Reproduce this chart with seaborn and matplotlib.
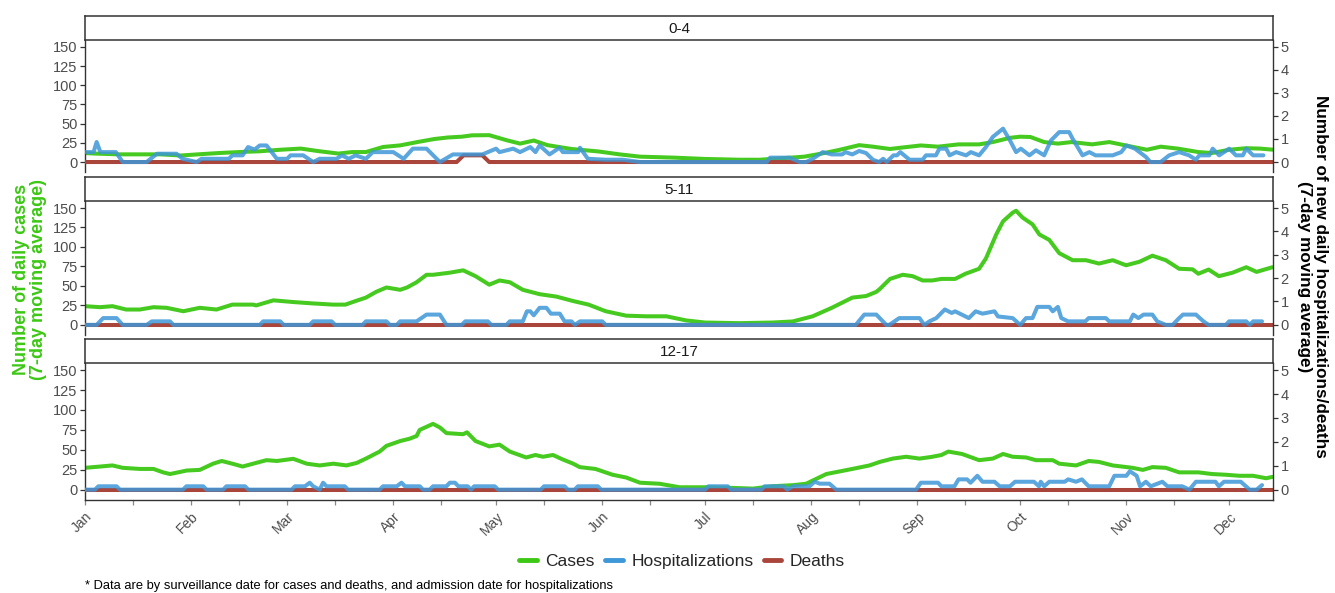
import numpy as np
import pandas as pd
import seaborn as sns
import matplotlib.pyplot as plt
import matplotlib.dates as mdates
from matplotlib.lines import Line2D

# ---- data (day offsets from Jan 1, values) ----
groups = ['0-4', '5-11', '12-17']

cases_04_days = [0, 3, 10, 16, 22, 28, 33, 39, 45, 51, 57, 63, 68, 74, 78, 82, 87, 92, 97, 102, 106, 110, 113, 118, 123, 127, 131, 135, 142, 150, 156, 162, 172, 181, 191, 197, 206, 210, 215, 220, 226, 230, 235, 238, 244, 249, 255, 261, 265, 270, 273, 276, 280, 284, 288, 294, 299, 306, 310, 314, 319, 325, 329, 334, 339, 343, 347]
cases_04_vals = [11.7, 11, 10, 10, 10, 8.5, 10, 11.7, 13, 14, 16, 17.5, 14.3, 11, 13, 13, 19.6, 21.7, 26, 30, 32, 33, 34.8, 35, 28.5, 24, 28, 22, 17, 13.7, 10, 7, 5.7, 4, 3, 3, 5.7, 7, 11, 15.6, 22, 20, 17, 18.6, 21.6, 20, 23, 23, 26, 31.5, 33, 32.6, 26, 24, 26, 23, 26, 19.6, 16, 20, 17.5, 13, 11.7, 16, 18, 17.5, 16]

hosp_04_days = [0, 2.5, 3.4, 4.5, 9, 11, 18, 21, 26.7, 28.5, 32.6, 34, 42, 43, 46, 47.6, 49.5, 51, 53, 56, 59, 60, 63.7, 66.6, 68.5, 73.4, 75, 77, 79, 82, 84, 90, 93, 95.7, 99.7, 103.6, 107.4, 116, 120, 121, 125, 127, 130, 131.5, 132.7, 135.6, 138.5, 139.5, 144, 144.5, 146.8, 152, 157, 162, 199, 200, 205.7, 208.6, 210.5, 212.4, 215.4, 218, 221, 222, 224, 226, 228, 230, 231.8, 233, 234, 236, 237, 238, 240.7, 244.5, 245.5, 248.4, 249.4, 251.4, 252.4, 254.3, 257.2, 258.6, 261, 263, 265, 268, 270, 271.8, 273.2, 275.7, 277.6, 280, 282, 284.4, 287.3, 288.3, 291.2, 293.2, 295, 300, 302.5, 304, 306.5, 309.7, 311, 314, 316.5, 319.4, 322.3, 324.3, 325.3, 328.2, 329.2, 331.1, 334, 336, 338, 339, 341, 344]
hosp_04_vals = [0.43, 0.43, 0.87, 0.43, 0.43, 0, 0, 0.36, 0.36, 0.14, 0, 0.14, 0.14, 0.29, 0.29, 0.65, 0.54, 0.72, 0.72, 0.14, 0.14, 0.29, 0.29, 0, 0.14, 0.14, 0.29, 0.14, 0.29, 0.14, 0.43, 0.43, 0.14, 0.58, 0.58, 0, 0.33, 0.33, 0.58, 0.43, 0.58, 0.43, 0.65, 0.43, 0.72, 0.33, 0.62, 0.43, 0.43, 0.62, 0.14, 0.1, 0.1, 0, 0, 0.19, 0.19, 0, 0, 0.14, 0.43, 0.33, 0.33, 0.43, 0.33, 0.48, 0.39, 0.1, 0, 0.14, 0, 0.29, 0.29, 0.43, 0.1, 0.1, 0.29, 0.29, 0.58, 0.58, 0.29, 0.43, 0.29, 0.43, 0.29, 0.65, 1.09, 1.45, 0.94, 0.43, 0.58, 0.29, 0.51, 0.29, 0.94, 1.3, 1.3, 1.01, 0.29, 0.43, 0.29, 0.29, 0.43, 0.72, 0.58, 0.22, 0, 0, 0.29, 0.43, 0.29, 0.1, 0.29, 0.29, 0.58, 0.29, 0.58, 0.29, 0.29, 0.58, 0.29, 0.29]

deaths_04_days = [0, 108.5, 110.5, 116, 118, 347]
deaths_04_vals = [0, 0, 0.29, 0.29, 0, 0]

cases_511_days = [0, 4.4, 8, 12, 16, 20, 23.8, 28.7, 33.5, 38.4, 43, 49, 50, 55, 60.8, 66.6, 72.5, 76, 79, 82, 85, 88, 92, 94, 96.8, 99.7, 101.6, 106.5, 110.4, 114, 118, 121, 124, 127.8, 132.7, 137.6, 142.5, 147, 152, 158, 163.9, 169.7, 175.5, 181, 191, 200.7, 206.6, 212.4, 218, 224, 228, 231, 232, 234, 235, 238.7, 241.6, 244.5, 247.3, 250, 254, 257, 261, 263, 266, 268, 270.8, 271.8, 273.7, 276.6, 278.6, 281.5, 284.4, 288.3, 292.2, 296, 300, 303.9, 307.8, 311.6, 315.5, 319.4, 323.3, 325, 328, 331, 335, 339, 342, 346.6]
cases_511_vals = [24, 22.7, 24, 19.7, 19.7, 22.7, 21.9, 17.5, 21.9, 19.7, 26, 26, 25, 31.5, 29.3, 27.5, 26, 26, 30.6, 35, 42.4, 48, 45, 48, 54.7, 64.3, 64.3, 67, 70, 62.5, 51.6, 57, 54.7, 45, 39.4, 36.3, 30.6, 26, 17.5, 11.8, 11, 11, 5.7, 3, 2.2, 3, 4.4, 11, 21.9, 35, 37, 42.4, 46, 54.7, 59, 64.3, 62.5, 57, 57, 59, 59, 65.6, 72, 85.3, 116, 133, 144, 146.5, 137.7, 129, 116, 109, 92, 83, 83, 78.7, 83, 76.5, 81, 88.8, 83, 72, 71.3, 65.6, 71, 62.5, 67, 74, 68, 74]

hosp_511_days = [0, 3.4, 5.3, 9.2, 11, 18, 19.5, 24.8, 25.8, 51, 52, 57, 58, 65.6, 66.6, 72, 73, 81, 82, 88, 89, 91, 92, 96.8, 99.7, 103.6, 105.5, 110, 111, 117.6, 118.6, 123, 124, 127.8, 129, 130, 131, 132.7, 134.7, 136, 138.6, 140, 142, 143, 144.5, 151, 152, 225, 227.5, 231, 233.9, 234.8, 237.7, 243.6, 245, 246.5, 248.5, 251, 253, 254, 258, 260, 262, 265.5, 266.5, 270.8, 273, 274.7, 276.6, 278, 281.5, 282.5, 284, 285, 287, 292, 293, 298, 299, 305, 306, 307.5, 309, 311.6, 313, 315.5, 317.5, 319.4, 320.5, 324.3, 326.5, 328, 333, 334, 339, 340, 341, 343.6]
hosp_511_vals = [0, 0, 0.29, 0.29, 0, 0, 0.15, 0.15, 0, 0, 0.15, 0.15, 0, 0, 0.15, 0.15, 0, 0, 0.15, 0.15, 0, 0, 0.15, 0.15, 0.44, 0.44, 0, 0, 0.15, 0.15, 0, 0, 0.15, 0.15, 0.58, 0.58, 0.41, 0.73, 0.73, 0.48, 0.48, 0.15, 0.15, 0, 0.15, 0.15, 0, 0, 0.44, 0.44, 0, 0, 0.29, 0.29, 0, 0.15, 0.29, 0.66, 0.51, 0.58, 0.29, 0.58, 0.48, 0.58, 0.36, 0.29, 0, 0.29, 0.29, 0.77, 0.77, 0.58, 0.77, 0.29, 0.15, 0.15, 0.29, 0.29, 0.15, 0.15, 0.44, 0.29, 0.44, 0.44, 0.15, 0, 0, 0.29, 0.44, 0.44, 0.15, 0, 0, 0.15, 0.15, 0, 0.15, 0.15]

deaths_511_days = [0, 347]
deaths_511_vals = [0, 0]

cases_1217_days = [0, 4.4, 8, 11, 16, 20, 22.8, 24.8, 29.7, 33.5, 37.4, 39.9, 43, 46, 51, 53, 56, 60.8, 64.7, 68.5, 72.5, 76.3, 79.3, 82, 86, 88, 92, 94.8, 96.8, 97.7, 101.6, 103.6, 105.5, 110.4, 111.5, 114, 118, 121, 124, 128.8, 131.5, 133.7, 136.6, 139.5, 142.5, 144.4, 149, 154, 158, 162, 167.7, 173.6, 181, 189, 195, 200.7, 206.6, 210.5, 216.4, 224, 229, 232, 235.8, 239.7, 243.6, 247, 250, 252, 256, 261, 265, 268, 270.8, 274.7, 277.6, 282.5, 284.4, 289.3, 293, 296, 300, 305.8, 308.8, 311.6, 315.5, 319.4, 325, 329, 333, 337, 341, 344.8, 346.6]
cases_1217_vals = [27.4, 29, 30.4, 27.4, 26, 26, 21.7, 19.6, 24, 24.8, 32.6, 36, 32.6, 29, 34.8, 37, 36, 38.7, 32.6, 30.4, 32.6, 30.4, 33.5, 39, 47.8, 55, 61, 64, 67.4, 75, 82.6, 78, 71, 69.6, 72, 61, 54.3, 56.5, 47.8, 40.4, 43.5, 41.3, 43.5, 37.8, 32.6, 28.3, 26, 18.7, 15.2, 8.7, 7.4, 3, 3, 2.2, 1.3, 4.3, 5.6, 7.4, 19.6, 26, 30.4, 34.8, 39, 41.3, 39, 41, 43.5, 47.8, 44.8, 37, 39, 44.8, 41.3, 40.4, 37, 37, 32.6, 30.4, 36, 34.8, 30.4, 27.4, 24.8, 28.3, 27.4, 21.7, 21.7, 19.6, 18.7, 17.4, 17.4, 14.3, 16]

hosp_1217_days = [0, 2.9, 3.9, 9.2, 10.2, 28.6, 29.6, 34.5, 35.5, 40.3, 41.3, 46.7, 47.7, 60.3, 61.3, 64.2, 65.6, 66.6, 68.5, 69.5, 70.5, 75.8, 76.8, 86, 87, 91, 92.4, 93.4, 97.7, 98.7, 100.6, 101.6, 105.5, 106.5, 108, 109, 111.7, 112.7, 113.6, 119.6, 120.6, 133, 134, 140, 141, 142.9, 143.9, 149.7, 150.7, 181, 182, 187.6, 188.6, 197.4, 198.4, 204, 205, 206.6, 211.5, 213, 214.5, 217.3, 219.3, 242.6, 244, 249, 250, 253.8, 255, 257.5, 258.5, 260.5, 262, 265.5, 267, 270, 271.5, 277, 278.5, 279, 280, 281.5, 286, 287, 289.3, 291, 293, 299, 300.5, 304, 305, 307, 308, 309.7, 311.1, 314.5, 316, 320.3, 322.4, 324.3, 330, 331, 332.5, 337.4, 340, 342, 343.6]
hosp_1217_vals = [0, 0, 0.14, 0.14, 0, 0, 0.14, 0.14, 0, 0, 0.14, 0.14, 0, 0, 0.14, 0.14, 0.29, 0.14, 0, 0.29, 0.14, 0.14, 0, 0, 0.14, 0.14, 0.29, 0.14, 0.14, 0, 0, 0.14, 0.14, 0.29, 0.29, 0.14, 0.14, 0, 0.14, 0.14, 0, 0, 0.14, 0.14, 0, 0, 0.14, 0.14, 0, 0, 0.14, 0.14, 0, 0, 0.14, 0.14, 0, 0.14, 0.14, 0.33, 0.25, 0.25, 0, 0, 0.29, 0.29, 0.14, 0.14, 0.43, 0.43, 0.29, 0.58, 0.33, 0.33, 0.14, 0.14, 0.33, 0.33, 0.14, 0.33, 0.14, 0.33, 0.33, 0.43, 0.33, 0.43, 0.14, 0.14, 0.58, 0.58, 0.77, 0.58, 0.14, 0.33, 0.14, 0.33, 0.14, 0.14, 0, 0.33, 0.33, 0.14, 0.33, 0.33, 0, 0, 0.19]

deaths_1217_days = [0, 347]
deaths_1217_vals = [0, 0]

series_names = ['Cases', 'Hospitalizations', 'Deaths']
colors = {'Cases': '#3CC814', 'Hospitalizations': '#3E97D7', 'Deaths': '#A9453A'}

start = pd.Timestamp('2022-01-01')


def to_dates(days):
    return start + pd.to_timedelta(days, unit='D')


def make_df(days, vals):
    return pd.DataFrame({'date': to_dates(days), 'value': vals})


panel_data = {
    '0-4': (make_df(cases_04_days, cases_04_vals), make_df(hosp_04_days, hosp_04_vals), make_df(deaths_04_days, deaths_04_vals)),
    '5-11': (make_df(cases_511_days, cases_511_vals), make_df(hosp_511_days, hosp_511_vals), make_df(deaths_511_days, deaths_511_vals)),
    '12-17': (make_df(cases_1217_days, cases_1217_vals), make_df(hosp_1217_days, hosp_1217_vals), make_df(deaths_1217_days, deaths_1217_vals)),
}

# ---- figure ----
sns.set_style('white')
plt.rcParams['font.family'] = ['Liberation Sans', 'DejaVu Sans']

W, H = 1335, 593
fig = plt.figure(figsize=(W / 100, H / 100), dpi=100)

left_px, right_px = 85, 1273
panel_px = [(16, 40, 172), (177, 201, 335), (339, 363, 500)]  # strip top, plot top, plot bottom
ylo, yhi = -13, 159
ratio = 30.0
tick_col = '#4D4D4D'
lw = 2.9

for i, g in enumerate(groups):
    st, pt, pb = panel_px[i]
    x0 = left_px / W
    w = (right_px - left_px) / W
    ax = fig.add_axes([x0, 1 - pb / H, w, (pb - pt) / H])
    sax = fig.add_axes([x0, 1 - pt / H, w, (pt - st) / H])

    cases, hosp, deaths = panel_data[g]
    sns.lineplot(data=cases, x='date', y='value', ax=ax, color=colors['Cases'],
                 lw=lw, sort=False, estimator=None, alpha=0.95)
    ax2 = ax.twinx()
    sns.lineplot(data=deaths, x='date', y='value', ax=ax2, color=colors['Deaths'],
                 lw=lw, sort=False, estimator=None)
    sns.lineplot(data=hosp, x='date', y='value', ax=ax2, color=colors['Hospitalizations'],
                 lw=lw, sort=False, estimator=None, alpha=0.85)

    ax.set_xlim(start, to_dates(346.8))
    ax.set_ylim(ylo, yhi)
    ax2.set_ylim(ylo / ratio, yhi / ratio)
    ax.set_yticks([0, 25, 50, 75, 100, 125, 150])
    ax2.set_yticks([0, 1, 2, 3, 4, 5])
    ax.set_xlabel('')
    ax.set_ylabel('')
    ax2.set_ylabel('')

    for a in (ax, ax2):
        for s in a.spines.values():
            s.set_visible(False)
            s.set_color('#333333')
            s.set_linewidth(1.0)
    ax.spines['left'].set_visible(True)
    ax2.spines['right'].set_visible(True)

    ax.tick_params(axis='y', length=3.5, width=0.9, color='#333333', labelcolor=tick_col,
                   labelsize=10.5, pad=2, left=True)
    ax2.tick_params(axis='y', length=3.5, width=0.9, color='#333333', labelcolor=tick_col,
                    labelsize=10.5, pad=2, right=True)

    ax.xaxis.set_major_locator(mdates.MonthLocator())
    ax.xaxis.set_minor_locator(mdates.MonthLocator(bymonthday=15))
    ax.xaxis.set_major_formatter(mdates.DateFormatter('%b'))
    if i == len(groups) - 1:
        ax.spines['bottom'].set_visible(True)
        ax.tick_params(axis='x', which='both', length=3.5, width=0.9, color='#888888',
                       labelcolor=tick_col, labelsize=10, bottom=True)
        for lab in ax.get_xticklabels():
            lab.set_rotation(45)
            lab.set_ha('right')
            lab.set_va('top')
            lab.set_rotation_mode('anchor')
    else:
        ax.tick_params(axis='x', which='both', bottom=False, labelbottom=False)

    # facet strip
    sax.set_xticks([])
    sax.set_yticks([])
    for s in sax.spines.values():
        s.set_visible(True)
        s.set_color('#333333')
        s.set_linewidth(1.1)
    sax.set_facecolor('white')
    sax.text(0.5, 0.45, g, ha='center', va='center', fontsize=11, color='#1a1a1a',
             transform=sax.transAxes)

# axis titles
fig.text(0.0225, 0.528, 'Number of daily cases\n(7-day moving average)', rotation=90,
         ha='center', va='center', color=colors['Cases'], fontsize=13, fontweight='bold',
         linespacing=1.05)
fig.text(0.983, 0.533, 'Number of new daily hospitalizations/deaths\n(7-day moving average)',
         rotation=270, ha='center', va='center', color='black', fontsize=12.3,
         fontweight='bold', linespacing=1.05)

# legend
handles = [Line2D([], [], color=colors[n], lw=3.5) for n in series_names]
fig.legend(handles, series_names, loc='center', bbox_to_anchor=(0.511, 0.053), ncol=3,
           frameon=False, fontsize=12.5, handlelength=1.0, handletextpad=0.5,
           columnspacing=0.6)

fig.text(left_px / W, 0.011,
         '* Data are by surveillance date for cases and deaths, and admission date for hospitalizations',
         ha='left', va='center', fontsize=9.3, color='black')

fig.savefig('out.png', dpi=100)
